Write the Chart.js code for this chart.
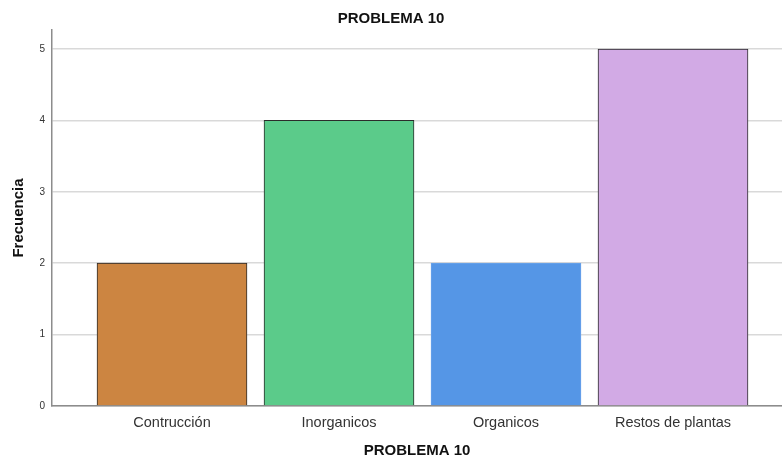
<!DOCTYPE html>
<html>
<head>
<meta charset="utf-8">
<script src="https://cdn.jsdelivr.net/npm/chart.js@4.4.0/dist/chart.umd.min.js"></script>
<style>
  body { margin: 0; background: #fff; }
  canvas { display: block; }
</style>
</head>
<body>
<canvas id="problema" width="782" height="458"></canvas>
<script>
const categorias = ["Contrucción", "Inorganicos", "Organicos", "Restos de plantas"];
const frecuencias = [2, 4, 2, 5];
const yTicks = [0, 1, 2, 3, 4, 5];
const barColors = ["#cc8541", "#5bcb8a", "#5596e6", "#d2aae5"];
const barBorders = ["#2b2b2b", "#2b2b2b", "#6aa3ea", "#2b2b2b"];

const fuente = "'Liberation Sans', Arial, sans-serif";

new Chart("problema", {
  type: "bar",
  data: {
    datasets: [{
      data: frecuencias.map((v, i) => ({ x: i, y: v })),
      backgroundColor: barColors,
      borderColor: barBorders,
      borderWidth: 1,
      barThickness: 150
    }]
  },
  options: {
    responsive: false,
    animation: false,
    layout: { padding: 0 },
    plugins: {
      legend: { display: false },
      tooltip: { enabled: false },
      title: {
        display: true,
        text: "PROBLEMA 10",
        color: "#111",
        font: { family: fuente, size: 15, weight: "bold", lineHeight: 1.2 },
        padding: { top: 10, bottom: 2 }
      }
    },
    scales: {
      x: {
        type: "linear",
        offset: false,
        min: -0.7186,
        max: 3.6527,
        grid: { display: false, drawTicks: false, offset: false },
        border: { color: "#8c8c8c", width: 1.5 },
        afterBuildTicks: s => { s.ticks = categorias.map((_, i) => ({ value: i })); },
        afterFit: s => { s.height = 52; },
        ticks: {
          autoSkip: false,
          maxRotation: 0,
          padding: 8,
          color: "#333",
          font: { family: fuente, size: 14.5 },
          callback: v => categorias[v]
        },
        title: {
          display: true,
          text: "PROBLEMA 10",
          color: "#111",
          font: { family: fuente, size: 15, weight: "bold", lineHeight: 0.9 },
          padding: 0
        }
      },
      y: {
        min: 0,
        max: 5.266,
        grid: { color: "#d9d9d9", lineWidth: 1.5, drawTicks: false },
        border: { color: "#8c8c8c", width: 1.5 },
        afterBuildTicks: s => { s.ticks = yTicks.map(v => ({ value: v })); },
        afterFit: s => { s.width = 52; },
        ticks: {
          padding: 7,
          color: "#333",
          font: { family: fuente, size: 10 }
        },
        title: {
          display: true,
          text: "Frecuencia",
          color: "#111",
          font: { family: fuente, size: 15, weight: "bold", lineHeight: 1.2 },
          padding: { top: 10, bottom: 0 }
        }
      }
    }
  }
});
</script>
</body>
</html>
